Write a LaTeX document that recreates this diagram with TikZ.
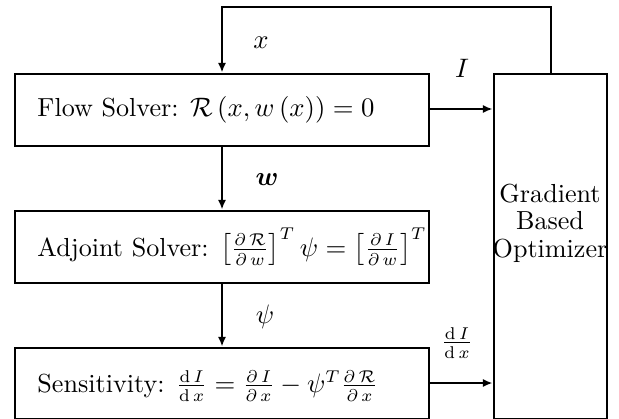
\documentclass[tikz,border=0pt]{standalone}
\usepackage{amsmath}
\usepackage{bm}
\usetikzlibrary{fit,arrows.meta}
\begin{document}
\begin{tikzpicture}[x=0.41pt,y=-0.41pt,
  box/.style={draw, line width=1.2pt, inner sep=0pt},
  lbl/.style={inner sep=0pt, font=\fontsize{10.7}{10.6}\selectfont},
  conn/.style={line width=0.8pt, -{Latex[length=4pt,width=3.4pt]}},
  wire/.style={line width=0.9pt, line cap=rect}]
\useasboundingbox (0,0) rectangle (619,418);
\node[box, fit={(15,74) (429,146)}] (flow) {};
\node[box, fit={(15,211) (429,283)}] (adj) {};
\node[box, fit={(15,348) (429,419)}] (sens) {};
\node[box, fit={(494,74) (607,419)}] (opt) {};

\node[lbl, anchor=west] (flowt) at (37,110) {Flow Solver: $\mathcal{R}\left(x, w\left(x\right)\right) = 0$};
\node[lbl, anchor=west] (adjt) at (37,247) {Adjoint Solver: $\left[\frac{\partial\,\mathcal{R}}{\partial\,w}\right]^T\psi = \left[\frac{\partial\,I}{\partial\,w}\right]^T$};
\node[lbl, anchor=west] (senst) at (37,386) {Sensitivity: $\frac{\mathrm{d}\,I}{\mathrm{d}\,x} = \frac{\partial\,I}{\partial\,x} - \psi^T \frac{\partial\,\mathcal{R}}{\partial\,x}$};
\node[lbl, align=center, font=\fontsize{10.7}{11.3}\selectfont] (optt) at (550,223) {Gradient\\Based\\Optimizer};

\coordinate (tl) at (222,7);
\coordinate (tr) at (551,7);
\draw[wire] (opt.north -| tr) -- (tr) -- (tl);
\draw[conn] (tl) -- (tl |- flow.north);
\draw[conn] (flow.east |- 0,109) -- (opt.west |- 0,109);
\draw[conn] (flow.south -| tl) -- (adj.north -| tl);
\draw[conn] (adj.south -| tl) -- (sens.north -| tl);
\draw[conn] (sens.east |- 0,383) -- (opt.west |- 0,383);

\node[lbl] (xl) at (261,43) {$x$};
\node[lbl] (il) at (462,68) {$I$};
\node[lbl] (wl) at (267,180) {$\bm{w}$};
\node[lbl] (psil) at (265,317) {$\psi$};
\node[lbl] (dl) at (457,343) {$\frac{\mathrm{d}\,I}{\mathrm{d}\,x}$};
\end{tikzpicture}
\end{document}
